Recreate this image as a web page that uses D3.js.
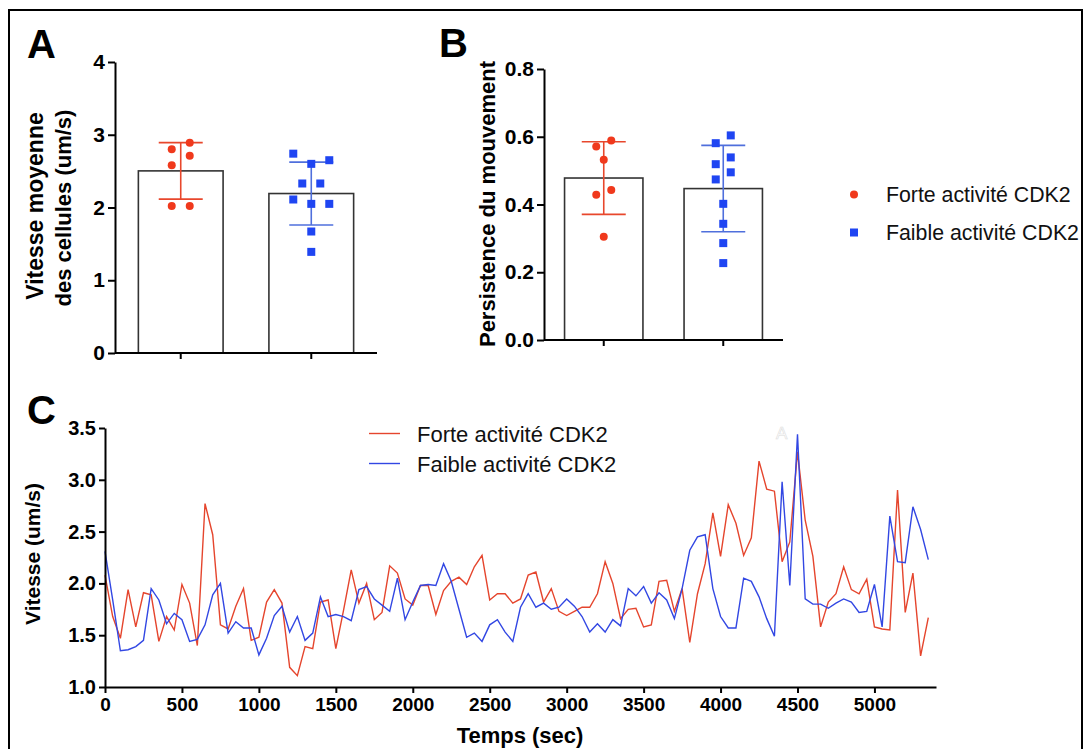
<!DOCTYPE html>
<html>
<head>
<meta charset="utf-8">
<script src="https://cdn.jsdelivr.net/npm/d3@7"></script>
<style>
  body { margin: 0; background: #fff; }
  svg { display: block; font-family: "Liberation Sans", Arial, sans-serif; }
</style>
</head>
<body>
<div id="chart"></div>
<script>
// groups
const groups = ["Forte activité CDK2", "Faible activité CDK2"];

// panel A : vitesse moyenne par cellule (um/s)
const speedForte = [2.80, 2.89, 2.71, 2.58, 2.02, 2.02];
const speedFaible = [2.74, 2.60, 2.65, 2.33, 2.33, 2.11, 2.05, 2.05, 1.67, 1.39];
const speedTicks = [0, 1, 2, 3, 4];

// panel B : persistence du mouvement
const persForte = [0.571, 0.589, 0.532, 0.443, 0.429, 0.305];
const persFaible = [0.581, 0.604, 0.519, 0.539, 0.474, 0.495, 0.402, 0.343, 0.286, 0.227];
const persTicks = [0.0, 0.2, 0.4, 0.6, 0.8];

// panel C : vitesse au cours du temps, un point toutes les 50 sec
const timeStep = 50;
const timeTicks = [0, 500, 1000, 1500, 2000, 2500, 3000, 3500, 4000, 4500, 5000];
const vitTicks = [1.0, 1.5, 2.0, 2.5, 3.0, 3.5];
const traceForte = [
  2.08, 1.68, 1.47, 1.94, 1.58, 1.91, 1.89, 1.44, 1.68, 1.55,
  1.99, 1.81, 1.40, 2.77, 2.47, 1.60, 1.56, 1.78, 1.95, 1.45,
  1.48, 1.82, 1.94, 1.81, 1.19, 1.11, 1.39, 1.37, 1.82, 1.84,
  1.37, 1.74, 2.13, 1.81, 2.00, 1.65, 1.72, 2.17, 2.10, 1.85,
  1.79, 1.98, 1.98, 1.70, 1.93, 2.02, 2.06, 1.99, 2.16, 2.27,
  1.84, 1.90, 1.90, 1.81, 1.85, 2.08, 2.11, 1.82, 1.95, 1.73,
  1.69, 1.73, 1.77, 1.77, 1.90, 2.21, 2.00, 1.66, 1.75, 1.76,
  1.58, 1.60, 2.02, 2.03, 1.73, 1.95, 1.43, 1.90, 2.19, 2.68,
  2.26, 2.76, 2.58, 2.27, 2.44, 3.18, 2.91, 2.89, 2.21, 2.40,
  3.27, 2.61, 2.26, 1.58, 1.82, 1.90, 2.16, 1.94, 1.90, 2.04,
  1.58, 1.56, 1.55, 2.90, 1.72, 2.10, 1.30, 1.67
];
const traceFaible = [
  2.31, 1.84, 1.35, 1.36, 1.39, 1.45, 1.95, 1.84, 1.61, 1.71,
  1.65, 1.44, 1.46, 1.60, 1.89, 2.00, 1.52, 1.63, 1.57, 1.57,
  1.31, 1.47, 1.69, 1.78, 1.53, 1.68, 1.45, 1.52, 1.87, 1.68,
  1.70, 1.68, 1.64, 1.94, 1.97, 1.85, 1.79, 1.73, 2.05, 1.65,
  1.82, 1.98, 1.99, 1.98, 2.19, 2.02, 1.75, 1.48, 1.52, 1.44,
  1.60, 1.65, 1.53, 1.44, 1.77, 1.90, 1.77, 1.81, 1.75, 1.77,
  1.85, 1.78, 1.68, 1.53, 1.61, 1.53, 1.65, 1.59, 1.95, 1.88,
  1.97, 1.81, 1.91, 1.84, 1.66, 1.95, 2.32, 2.45, 2.47, 1.95,
  1.68, 1.57, 1.57, 2.05, 2.02, 1.87, 1.66, 1.49, 2.98, 1.98,
  3.44, 1.85, 1.80, 1.80, 1.76, 1.81, 1.85, 1.82, 1.72, 1.73,
  1.99, 1.58, 2.65, 2.21, 2.20, 2.74, 2.52, 2.23
];

const width = 1085, height = 749;
const red = "#f0391c", blue = "#1f45f2";
const redBar = "#e8472c", blueBar = "#4f6fdc";
const redLine = "#e5452d", blueLine = "#3247e3";

const svg = d3.select("#chart").append("svg")
  .attr("width", width)
  .attr("height", height);

// cadre
svg.append("rect")
  .attr("x", 9).attr("y", 10)
  .attr("width", 1073).attr("height", 760)
  .attr("fill", "none")
  .attr("stroke", "#000")
  .attr("stroke-width", 2);

// scatter layout like Prism: points close in y share a row, centred on the bar
function rowOffsets(vals, y, thr, slot) {
  const idx = d3.range(vals.length).sort((a, b) => vals[b] - vals[a]);
  const rows = [];
  let cur = null;
  idx.forEach(i => {
    const py = y(vals[i]);
    if (cur && py - cur.y0 < thr) cur.items.push(i);
    else { cur = { y0: py, items: [i] }; rows.push(cur); }
  });
  const off = [];
  rows.forEach(r => {
    const items = r.items.slice().sort((a, b) => vals[a] - vals[b]);
    const n = items.length;
    items.forEach((it, j) => {
      let p;
      if (n % 2 === 0) p = j - (n - 1) / 2;
      else p = j === 0 ? 0 : (j % 2 ? 1 : -1) * Math.ceil(j / 2);
      off[it] = p * slot;
    });
  });
  return off;
}

function styleAxis(g, size) {
  g.select(".domain").attr("stroke", "#000").attr("stroke-width", 2);
  g.selectAll(".tick line").attr("stroke", "#000").attr("stroke-width", 2);
  g.selectAll(".tick text")
    .attr("fill", "#000")
    .attr("font-size", size)
    .attr("font-weight", "bold")
    .attr("font-family", "Liberation Sans, Arial, sans-serif");
}

function barPanel(cfg) {
  const y = d3.scaleLinear().domain(cfg.yDomain).range(cfg.yRange);
  const x = d3.scaleBand().domain(groups).range(cfg.xRange)
    .paddingInner(cfg.padIn).paddingOuter(cfg.padOut);
  const sets = [cfg.forte, cfg.faible];
  const g = svg.append("g");

  // barres = moyennes
  g.selectAll("rect.bar")
    .data(sets)
    .enter()
    .append("rect")
    .attr("class", "bar")
    .attr("x", (d, i) => x(groups[i]))
    .attr("y", d => y(d3.mean(d)))
    .attr("width", x.bandwidth())
    .attr("height", d => y(0) - y(d3.mean(d)))
    .attr("fill", "#fff")
    .attr("stroke", "#333")
    .attr("stroke-width", 1.6);

  // barres d'erreur (SD) + points
  sets.forEach((vals, i) => {
    const cx = x(groups[i]) + x.bandwidth() / 2;
    const m = d3.mean(vals), sd = d3.deviation(vals);
    const col = i === 0 ? redBar : blueBar;
    const eb = g.append("g").attr("stroke", col).attr("stroke-width", 1.6);
    eb.append("line").attr("x1", cx).attr("x2", cx).attr("y1", y(m + sd)).attr("y2", y(m - sd));
    eb.append("line").attr("x1", cx - 22).attr("x2", cx + 22).attr("y1", y(m + sd)).attr("y2", y(m + sd));
    eb.append("line").attr("x1", cx - 22).attr("x2", cx + 22).attr("y1", y(m - sd)).attr("y2", y(m - sd));

    const off = rowOffsets(vals, y, 11, cfg.slot);
    if (i === 0) {
      g.selectAll(null).data(vals).enter().append("circle")
        .attr("cx", (d, j) => cx + off[j])
        .attr("cy", d => y(d))
        .attr("r", 4)
        .attr("fill", red);
    } else {
      g.selectAll(null).data(vals).enter().append("rect")
        .attr("x", (d, j) => cx + off[j] - 4)
        .attr("y", d => y(d) - 4)
        .attr("width", 8).attr("height", 8)
        .attr("fill", blue);
    }
  });

  const ya = g.append("g")
    .attr("transform", `translate(${cfg.xRange[0]},0)`)
    .call(d3.axisLeft(y).tickValues(cfg.ticks).tickFormat(cfg.fmt).tickSize(7).tickSizeOuter(0).tickPadding(3));
  styleAxis(ya, 21);

  const xa = g.append("g")
    .attr("transform", `translate(0,${cfg.yRange[0]})`)
    .call(d3.axisBottom(x).tickSize(6).tickSizeOuter(0).tickFormat(""));
  styleAxis(xa, 21);
  xa.select(".domain").attr("d", `M${cfg.xRange[0]},0H${cfg.xRange[1]}`);
}

barPanel({
  forte: speedForte, faible: speedFaible,
  yDomain: [0, 4], yRange: [353, 62], xRange: [115, 377],
  padIn: 0.351, padOut: 0.179, ticks: speedTicks, fmt: d3.format("d"), slot: 18
});
barPanel({
  forte: persForte, faible: persFaible,
  yDomain: [0, 0.8], yRange: [340, 69], xRange: [544, 783],
  padIn: 0.344, padOut: 0.172, ticks: persTicks, fmt: d3.format(".1f"), slot: 15
});

// titres d'axes A et B
svg.append("text")
  .attr("transform", "translate(35,206) rotate(-90)")
  .attr("text-anchor", "middle").attr("dy", "0.35em")
  .attr("font-size", 23).attr("font-weight", "bold")
  .text("Vitesse moyenne");
svg.append("text")
  .attr("transform", "translate(63,208) rotate(-90)")
  .attr("text-anchor", "middle").attr("dy", "0.35em")
  .attr("font-size", 22).attr("font-weight", "bold")
  .text("des cellules (um/s)");
svg.append("text")
  .attr("transform", "translate(487,204) rotate(-90)")
  .attr("text-anchor", "middle").attr("dy", "0.35em")
  .attr("font-size", 22).attr("font-weight", "bold")
  .text("Persistence du mouvement");

// legende A/B
const leg = svg.append("g");
leg.append("circle").attr("cx", 854).attr("cy", 194.5).attr("r", 4).attr("fill", red);
leg.append("rect").attr("x", 850).attr("y", 228.5).attr("width", 8).attr("height", 8).attr("fill", blue);
leg.selectAll("text")
  .data(groups)
  .enter()
  .append("text")
  .attr("x", 886)
  .attr("y", (d, i) => 202 + i * 38)
  .attr("font-size", 21.3)
  .attr("fill", "#111")
  .text(d => d);

// lettres des panneaux
[["A", 27, 58], ["B", 439, 57], ["C", 27, 424]].forEach(p => {
  svg.append("text")
    .attr("x", p[1]).attr("y", p[2])
    .attr("font-size", 40).attr("font-weight", "bold")
    .text(p[0]);
});

// panneau C
const xC = d3.scaleLinear().domain([0, 5400]).range([105, 936]);
const yC = d3.scaleLinear().domain([1, 3.5]).range([687, 428]);
const gC = svg.append("g");

const line = d3.line()
  .x((d, i) => xC(i * timeStep))
  .y(d => yC(d));

gC.append("path")
  .datum(traceForte)
  .attr("d", line)
  .attr("fill", "none")
  .attr("stroke", redLine)
  .attr("stroke-width", 1.4);
gC.append("path")
  .datum(traceFaible)
  .attr("d", line)
  .attr("fill", "none")
  .attr("stroke", blueLine)
  .attr("stroke-width", 1.4);

const xaC = gC.append("g")
  .attr("transform", "translate(0,687)")
  .call(d3.axisBottom(xC).tickValues(timeTicks).tickFormat(d3.format("d")).tickSize(6).tickSizeOuter(0).tickPadding(5));
styleAxis(xaC, 19);
const yaC = gC.append("g")
  .attr("transform", "translate(105,0)")
  .call(d3.axisLeft(yC).tickValues(vitTicks).tickFormat(d3.format(".1f")).tickSize(6).tickSizeOuter(0).tickPadding(3));
styleAxis(yaC, 20);

svg.append("text")
  .attr("transform", "translate(33,554) rotate(-90)")
  .attr("text-anchor", "middle").attr("dy", "0.35em")
  .attr("font-size", 21).attr("font-weight", "bold")
  .text("Vitesse (um/s)");
svg.append("text")
  .attr("x", 520).attr("y", 743)
  .attr("text-anchor", "middle")
  .attr("font-size", 22).attr("font-weight", "bold")
  .text("Temps (sec)");

// legende C
const legC = svg.append("g");
[redLine, blueLine].forEach((c, i) => {
  legC.append("line")
    .attr("x1", 369).attr("x2", 400)
    .attr("y1", 433.5 + i * 30).attr("y2", 433.5 + i * 30)
    .attr("stroke", c).attr("stroke-width", 1.4);
});
legC.selectAll("text")
  .data(groups)
  .enter()
  .append("text")
  .attr("x", 417)
  .attr("y", (d, i) => 441.5 + i * 30.5)
  .attr("font-size", 22)
  .attr("fill", "#111")
  .text(d => d);

// petit "A" pale laisse sur la figure
svg.append("text")
  .attr("x", 776).attr("y", 439)
  .attr("font-size", 17)
  .attr("fill", "#fff")
  .attr("stroke", "#dcdcdc")
  .attr("stroke-width", 0.6)
  .text("A");
</script>
</body>
</html>
